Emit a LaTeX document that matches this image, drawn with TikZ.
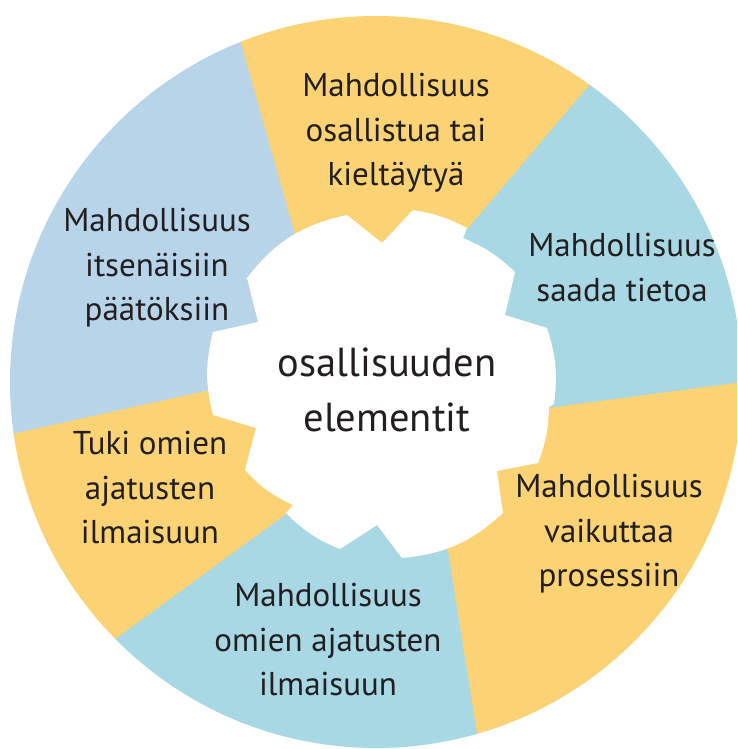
\documentclass[tikz,border=0pt]{standalone}
\usepackage{fontspec}
\setmainfont{PT Sans}
\definecolor{ylw}{HTML}{FBD274}
\definecolor{cyn}{HTML}{A8D8E3}
\definecolor{pbl}{HTML}{B7D4E8}
\definecolor{txt}{HTML}{231F20}
\begin{document}
\begin{tikzpicture}[x=1pt,y=-1pt,
  seg/.style={fill=#1,draw=#1,line width=0.6pt},
  lbl/.style={font=\fontsize{33}{44.5}\selectfont,align=center,text=txt,inner sep=0pt,anchor=north},
  ctr/.style={font=\fontsize{40.5}{55}\selectfont,align=center,text=txt,inner sep=0pt,anchor=north}]
\useasboundingbox (0,0) rectangle (737,749);
\clip (0,0) rectangle (737,749);
\coordinate (O) at (380,385);
\coordinate (i1) at (297,243); \coordinate (f1) at (216,-44);
\coordinate (i2) at (467,230); \coordinate (f2) at (657,6);
\coordinate (i3) at (550,408); \coordinate (f3) at (836,370);
\coordinate (i4) at (447,547); \coordinate (f4) at (493,836);
\coordinate (i5) at (287,513); \coordinate (f5) at (49,687);
\coordinate (i6) at (208,390); \coordinate (f6) at (-80,454);
\begin{scope}
\clip (376,382) circle[radius=366pt];
\fill[seg=ylw] (i1) -- (f1) -- (400,-150) -- (f2) -- (i2) -- (O) -- cycle;
\fill[seg=cyn] (i2) -- (f2) -- (850,150) -- (f3) -- (i3) -- (O) -- cycle;
\fill[seg=ylw] (i3) -- (f3) -- (800,760) -- (f4) -- (i4) -- (O) -- cycle;
\fill[seg=cyn] (i4) -- (f4) -- (250,850) -- (f5) -- (i5) -- (O) -- cycle;
\fill[seg=ylw] (i5) -- (f5) -- (-100,560) -- (f6) -- (i6) -- (O) -- cycle;
\fill[seg=pbl] (i6) -- (f6) -- (-100,100) -- (100,-100) -- (f1) -- (i1) -- (O) -- cycle;
\end{scope}
\fill[white] (213,415) to[bend left=14] (213,332) -- (258,322) -- (247,278)
  to[bend left=20] (347,215) -- (382,243) -- (413,210)
  to[bend left=9] (467,228) -- (463,238)
  to[bend left=10] (515,272) -- (505,315) -- (547,328)
  to[bend left=12.5] (554,404) -- (549,407)
  to[bend left=9.5] (538,463) -- (497,471) -- (503,513)
  to[bend left=18.4] (402,558) -- (377,525) -- (340,549)
  to[bend left=11.3] (286,513) -- (293,505)
  to[bend left=11] (245,470) -- (256,428) -- cycle;
\node[lbl] (t1) at (396,73) {Mahdollisuus\\osallistua tai\\kieltäytyä};
\node[lbl] (t2) at (622,233) {Mahdollisuus\\saada tietoa};
\node[lbl] (t3) at (157,208) {Mahdollisuus\\itsenäisiin\\päätöksiin};
\node[lbl] (t4) at (150,431) {Tuki omien\\ajatusten\\ilmaisuun};
\node[lbl] (t5) at (328,583) {Mahdollisuus\\omien ajatusten\\ilmaisuun};
\node[lbl] (t6) at (609,474) {Mahdollisuus\\vaikuttaa\\prosessiin};
\node[ctr] (c) at (387,348) {osallisuuden\\elementit};
\end{tikzpicture}
\end{document}
